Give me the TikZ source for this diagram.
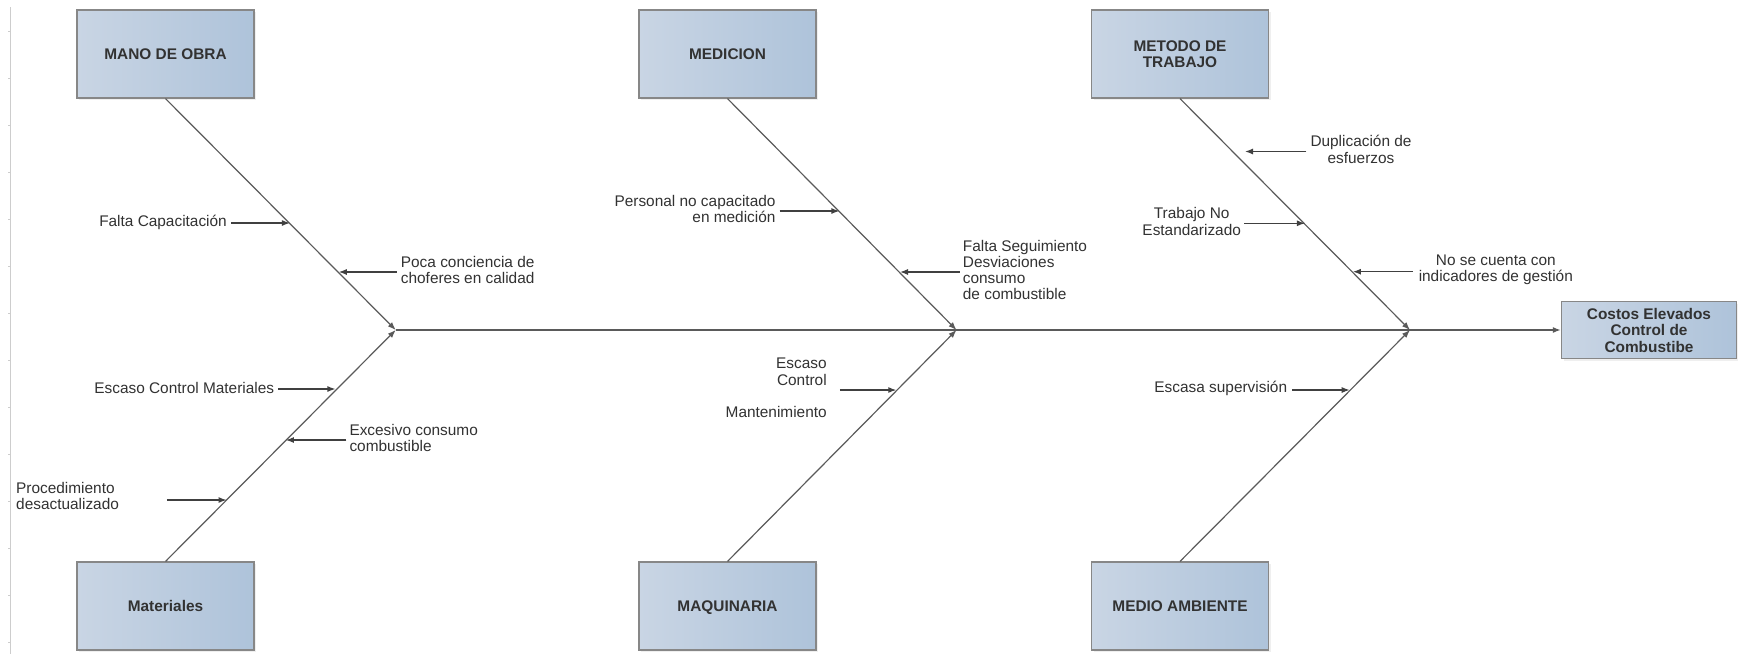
\documentclass[tikz,border=0pt]{standalone}
\usepackage{fontspec}
\setmainfont{Liberation Sans}
\usetikzlibrary{arrows.meta,shadows,calc}
\definecolor{boxL}{RGB}{201,213,228}
\definecolor{boxR}{RGB}{174,195,218}
\definecolor{boxB}{RGB}{135,135,135}
\definecolor{txt}{RGB}{50,50,50}
\definecolor{bonec}{RGB}{90,90,90}
\definecolor{arrowc}{RGB}{64,64,64}
\definecolor{rulerc}{RGB}{205,205,205}
\tikzset{
  catbox/.style={draw=boxB, line width=1.2pt, left color=boxL, right color=boxR,
    minimum width=177pt, minimum height=88pt, inner sep=2pt, align=center,
    font=\fontsize{15.4}{16.3}\selectfont\bfseries, text=txt,
    drop shadow={opacity=0.12, shadow xshift=2pt, shadow yshift=-2pt}},
  lbl/.style={inner sep=0pt, font=\fontsize{15.4}{16.3}\selectfont, text=txt},
  bonel/.style={draw=bonec, line width=1.2pt, -{Latex[length=8pt,width=6pt]}},
  spinel/.style={draw=bonec, line width=1.6pt, -{Latex[length=8pt,width=6pt]}},
  cause/.style={draw=arrowc, line width=1.2pt, -{Latex[length=8pt,width=6pt]}},
  gap/.style={shorten <=#1},
}
\begin{document}
\begin{tikzpicture}[x=1pt,y=-1pt]
\fill[white] (0,0) rectangle (1738,654);
\useasboundingbox (0,0) rectangle (1738,654);

% ruler at the left edge
\draw[rulerc, line width=1.5pt] (10.5,7) -- (10.5,654);
\foreach \yy in {31,78,...,644} \draw[rulerc, line width=0.8pt] (8,\yy) -- (10.5,\yy);

% category boxes
\node[catbox] (mano) at (165.5,54) {MANO DE OBRA};
\node[catbox] (medicion) at (727.5,54) {MEDICION};
\node[catbox] (metodo) at (1180,54) {METODO DE\\TRABAJO};
\node[catbox] (materiales) at (165.5,606) {Materiales};
\node[catbox, text depth=0pt] (maquinaria) at (727.5,606) {MAQUINARIA};
\node[catbox] (medio) at (1180,606) {MEDIO AMBIENTE};
\node[catbox, minimum width=175pt, minimum height=57pt] (efecto) at (1649,330.3)
      {Costos Elevados\\Control de\\Combustibe};

% junctions on the spine
\coordinate (j1) at (395.7,330);
\coordinate (j2) at (956.5,330);
\coordinate (j3) at (1410,330);

% spine and bones
\draw[spinel] (j1) -- (efecto.west |- j1);
\draw[bonel] (mano.south) -- (j1);
\draw[bonel] (materiales.north) -- (j1);
\draw[bonel] (medicion.south) -- (j2);
\draw[bonel] (maquinaria.north) -- (j2);
\draw[bonel] (metodo.south) -- (j3);
\draw[bonel] (medio.north) -- (j3);

% points where cause arrows meet the bones
\coordinate (t1) at (289.9,223);
\coordinate (t2) at (338.8,272);
\coordinate (t3) at (335.4,389);
\coordinate (t4) at (285.9,440);
\coordinate (t5) at (226.6,500);
\coordinate (s5) at (166.8,500);
\coordinate (t6) at (839.4,211);
\coordinate (t7) at (900,272);
\coordinate (t8) at (896.3,390);
\coordinate (t9) at (1245,151.5);
\coordinate (t10) at (1304.9,223.3);
\coordinate (t11) at (1352.9,271.7);
\coordinate (t12) at (1349.7,390);

% cause labels
\node[lbl, anchor=east] (fc) at (227,222) {Falta Capacitación};
\node[lbl, anchor=west, align=left] (poca) at (400.7,270) {Poca conciencia de\\choferes en calidad};
\node[lbl, anchor=east] (ecm) at (274.3,387.5) {Escaso Control Materiales};
\node[lbl, anchor=west, align=left] (exc) at (349.3,438) {Excesivo consumo\\combustible};
\node[lbl, anchor=west, align=left] (proc) at (16,496) {Procedimiento\\desactualizado};
\node[lbl, anchor=east, align=right] (pers) at (775.7,209) {Personal no capacitado\\en medición};
\node[lbl, anchor=west, align=left] (fseg) at (962.7,270) {Falta Seguimiento\\Desviaciones\\consumo\\de combustible};
\node[lbl, anchor=east, align=right] (escm) at (826.9,388) {Escaso\\Control\\[16.3pt]Mantenimiento};
\node[lbl, align=center] (dup) at (1361,149.5) {Duplicación de\\esfuerzos};
\node[lbl, align=center] (trab) at (1191.7,221.5) {Trabajo No\\Estandarizado};
\node[lbl, align=center] (nosec) at (1495.8,269.7) {No se cuenta con\\indicadores de gestión};
\node[lbl, anchor=east] (esup) at (1287.3,388) {Escasa supervisión};

% cause arrows
\draw[cause, gap=4pt] (fc.east |- t1) -- (t1);
\draw[cause, gap=4pt] (poca.west |- t2) -- (t2);
\draw[cause, gap=4pt] (ecm.east |- t3) -- (t3);
\draw[cause, gap=3pt] (exc.west |- t4) -- (t4);
\draw[cause] (s5) -- (t5);
\draw[cause, gap=4pt] (pers.east |- t6) -- (t6);
\draw[cause, gap=3pt] (fseg.west |- t7) -- (t7);
\draw[cause, gap=13pt] (escm.east |- t8) -- (t8);
\draw[cause, gap=4pt] (dup.west |- t9) -- (t9);
\draw[cause, gap=3pt] (trab.east |- t10) -- (t10);
\draw[cause, gap=6pt] (nosec.west |- t11) -- (t11);
\draw[cause, gap=5pt] (esup.east |- t12) -- (t12);
\end{tikzpicture}
\end{document}
